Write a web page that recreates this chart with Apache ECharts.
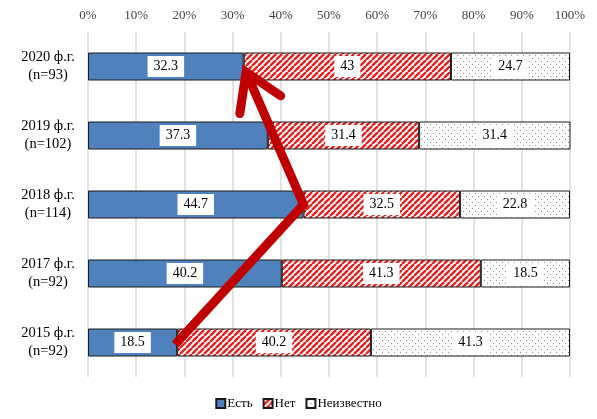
<!DOCTYPE html>
<html><head><meta charset="utf-8">
<script src="https://cdn.jsdelivr.net/npm/echarts@6/dist/echarts.min.js"></script>
<style>html,body{margin:0;padding:0;background:#fff}#c{width:597px;height:419px}</style>
</head><body><div id="c"></div>
<script>
const categories = ['2020 ф.г.\n(n=93)', '2019 ф.г.\n(n=102)', '2018 ф.г.\n(n=114)', '2017 ф.г.\n(n=92)', '2015 ф.г.\n(n=92)'];
const seriesNames = ['Есть', 'Нет', 'Неизвестно'];
const yesValues = [32.3, 37.3, 44.7, 40.2, 18.5];
const noValues = [43, 31.4, 32.5, 41.3, 40.2];
const unknownValues = [24.7, 31.4, 22.8, 18.5, 41.3];
const tickLabels = ['0%', '10%', '20%', '30%', '40%', '50%', '60%', '70%', '80%', '90%', '100%'];
// arrow follows the "Есть" values for these categories (by index): 2015 -> 2018 -> 2020
const arrowCategoryIdx = [4, 2, 0];

function hatch() {
  const s = 6, c = document.createElement('canvas');
  c.width = s; c.height = s;
  const g = c.getContext('2d');
  g.fillStyle = '#fff'; g.fillRect(0, 0, s, s);
  g.strokeStyle = '#e02424'; g.lineWidth = 2.5;
  for (let k = -1; k <= 1; k++) {
    g.beginPath(); g.moveTo(k * s, s); g.lineTo(k * s + s, 0); g.stroke();
  }
  return c;
}
function dots() {
  const s = 6, c = document.createElement('canvas');
  c.width = s; c.height = s;
  const g = c.getContext('2d');
  g.fillStyle = '#fff'; g.fillRect(0, 0, s, s);
  g.fillStyle = '#8c8c8c';
  g.fillRect(1, 1, 1, 1); g.fillRect(4, 4, 1, 1);
  return c;
}

const serif = 'Liberation Serif';
const labelStyle = {
  show: true, position: 'inside', color: '#000', fontFamily: serif, fontSize: 14,
  backgroundColor: '#fff', padding: [4, 6, 3, 6],
  formatter: p => String(p.value)
};
function barSeries(name, data, color) {
  return {
    name, type: 'bar', stack: 'all', data, barWidth: 28,
    itemStyle: { color, borderColor: '#1a1a1a', borderWidth: 1 },
    label: labelStyle, emphasis: { disabled: true }
  };
}

const chart = echarts.init(document.getElementById('c'), null, { renderer: 'canvas' });
chart.setOption({
  animation: false,
  grid: { left: 88, right: 27, top: 32, bottom: 42, containLabel: false },
  legend: {
    bottom: 4, left: 'center', icon: 'rect', itemWidth: 9, itemHeight: 9, itemGap: 10,
    textStyle: { fontFamily: serif, fontSize: 13, color: '#000', padding: [0, 0, 0, -3] },
    data: seriesNames
  },
  xAxis: {
    type: 'value', position: 'top', min: 0, max: 100, interval: 10,
    axisLine: { show: false }, axisTick: { show: false },
    axisLabel: { formatter: v => tickLabels[Math.round(v / 10)], fontFamily: serif, fontSize: 13, color: '#404040', margin: 10 },
    splitLine: { show: true, lineStyle: { color: '#d9d9d9', width: 1.5 } }
  },
  yAxis: {
    type: 'category', inverse: true, data: categories,
    axisLine: { show: false }, axisTick: { show: false },
    axisLabel: { align: 'center', margin: 40, fontFamily: serif, fontSize: 14.5, lineHeight: 18, color: '#000' }
  },
  series: [
    barSeries(seriesNames[0], yesValues, '#4f81bd'),
    barSeries(seriesNames[1], noValues, { image: hatch(), repeat: 'repeat' }),
    barSeries(seriesNames[2], unknownValues, { image: dots(), repeat: 'repeat' })
  ]
});

// red arrow through the ends of the "Есть" bars, positioned by the chart's own scales
const pts = arrowCategoryIdx.map(i => chart.convertToPixel({ gridIndex: 0 }, [yesValues[i], i]));
const a = pts[1], b = pts[2];
let dx = b[0] - a[0], dy = b[1] - a[1];
const len = Math.hypot(dx, dy); dx /= len; dy /= len;
const tip = [b[0] - dx * 6, b[1] - dy * 6];
const start = [pts[0][0] - 2, pts[0][1] + 2];
function arm(angDeg) {
  const t = angDeg * Math.PI / 180, bx = -dx, by = -dy;
  const rx = bx * Math.cos(t) - by * Math.sin(t), ry = bx * Math.sin(t) + by * Math.cos(t);
  return [tip[0] + rx * 42, tip[1] + ry * 42];
}
chart.setOption({
  graphic: [
    { type: 'polyline', z: 100, shape: { points: [start, a, tip] },
      style: { stroke: '#c00000', lineWidth: 9, fill: null, lineJoin: 'miter', lineCap: 'butt' } },
    { type: 'polyline', z: 101, shape: { points: [arm(32), tip, arm(-32)] },
      style: { stroke: '#c00000', lineWidth: 9, fill: null, lineJoin: 'miter', lineCap: 'round' } }
  ]
});
</script></body></html>
